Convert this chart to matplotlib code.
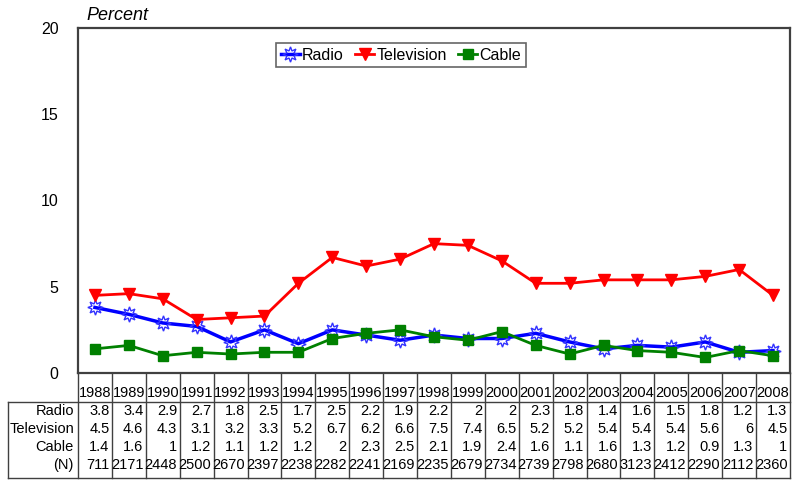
import matplotlib
matplotlib.use("Agg")
import matplotlib.pyplot as plt
from matplotlib.lines import Line2D

plt.rcParams['font.family'] = ['Liberation Sans', 'DejaVu Sans']

years = ['1988', '1989', '1990', '1991', '1992', '1993', '1994', '1995', '1996', '1997',
         '1998', '1999', '2000', '2001', '2002', '2003', '2004', '2005', '2006', '2007', '2008']
radio = [3.8, 3.4, 2.9, 2.7, 1.8, 2.5, 1.7, 2.5, 2.2, 1.9, 2.2, 2, 2, 2.3, 1.8, 1.4, 1.6, 1.5, 1.8, 1.2, 1.3]
television = [4.5, 4.6, 4.3, 3.1, 3.2, 3.3, 5.2, 6.7, 6.2, 6.6, 7.5, 7.4, 6.5, 5.2, 5.2, 5.4, 5.4, 5.4, 5.6, 6, 4.5]
cable = [1.4, 1.6, 1, 1.2, 1.1, 1.2, 1.2, 2, 2.3, 2.5, 2.1, 1.9, 2.4, 1.6, 1.1, 1.6, 1.3, 1.2, 0.9, 1.3, 1]
n_vals = [711, 2171, 2448, 2500, 2670, 2397, 2238, 2282, 2241, 2169, 2235, 2679, 2734, 2739, 2798,
          2680, 3123, 2412, 2290, 2112, 2360]
yticks = [0, 5, 10, 15, 20]

W, H = 793, 482
fig = plt.figure(figsize=(W / 100, H / 100), dpi=100)
ax_l, ax_r, ax_t, ax_b = 78, 790, 28, 373
ax = fig.add_axes([ax_l / W, 1 - ax_b / H, (ax_r - ax_l) / W, (ax_b - ax_t) / H])

x = list(range(len(years)))
ax.plot(x, radio, color='#0000ff', lw=2.5, marker=(8, 1, 0), ms=11,
        mfc='none', mec='#3333ff', mew=1.0, label='Radio', zorder=3)
ax.plot(x, television, color='#ff0000', lw=2.0, marker='v', ms=9,
        mfc='#ff0000', mec='#ff0000', label='Television', zorder=3)
ax.plot(x, cable, color='#008000', lw=2.0, marker='s', ms=7,
        mfc='#008000', mec='#008000', label='Cable', zorder=3)

ax.set_xlim(-0.5, len(years) - 0.5)
ax.set_ylim(0, 20)
ax.set_yticks(yticks)
ax.set_yticklabels([str(v) for v in yticks], fontsize=11.5)
ax.tick_params(axis='y', length=0, pad=14)
ax.set_xticks([])
for s in ax.spines.values():
    s.set_color('#404040')
    s.set_linewidth(1.6)

ax.text(0.012, 1.012, 'Percent', transform=ax.transAxes, fontsize=13, style='italic',
        ha='left', va='bottom')

leg = ax.legend(loc='center', bbox_to_anchor=((401 - ax_l) / (ax_r - ax_l), (ax_b - 55) / (ax_b - ax_t)),
                ncol=3, fontsize=11.5, frameon=True, fancybox=False, handlelength=1.2,
                handletextpad=0.15, columnspacing=0.7, borderpad=0.3, borderaxespad=0)
leg.get_frame().set_edgecolor('#404040')
leg.get_frame().set_linewidth(1.2)

# Table drawn below the axes
ncol = len(years)
aw = ax_r - ax_l
ah = ax_b - ax_t

def fx(px):
    return (px - ax_l) / aw

def fy(py):
    return (ax_b - py) / ah

lc = '#404040'
lw = 1.0
tr = ax.transAxes
table_left = 8
y_head_line = 402
y_bottom = 478
for i in range(ncol + 1):
    xx = i / ncol
    ax.add_line(Line2D([xx, xx], [fy(ax_b), fy(y_bottom)], transform=tr, color=lc, lw=lw, clip_on=False))
ax.add_line(Line2D([fx(table_left), fx(table_left)], [fy(y_head_line), fy(y_bottom)], transform=tr,
                   color=lc, lw=lw, clip_on=False))
for yy in (y_head_line, y_bottom):
    ax.add_line(Line2D([fx(table_left), 1], [fy(yy), fy(yy)], transform=tr, color=lc, lw=lw, clip_on=False))

for i, yr in enumerate(years):
    ax.text((i + 0.5) / ncol, fy(393), yr, transform=tr, ha='center', va='center', fontsize=10.5)

rows = [('Radio', radio), ('Television', television), ('Cable', cable), ('(N)', n_vals)]
row_y = [411, 429, 447, 465]
for (name, vals), ry in zip(rows, row_y):
    ax.text(fx(74), fy(ry), name, transform=tr, ha='right', va='center', fontsize=10.5)
    for i, v in enumerate(vals):
        ax.text((i + 1) / ncol - 2.5 / aw, fy(ry), f'{v:g}', transform=tr, ha='right', va='center',
                fontsize=10.5)

fig.savefig('out.png', dpi=100)
